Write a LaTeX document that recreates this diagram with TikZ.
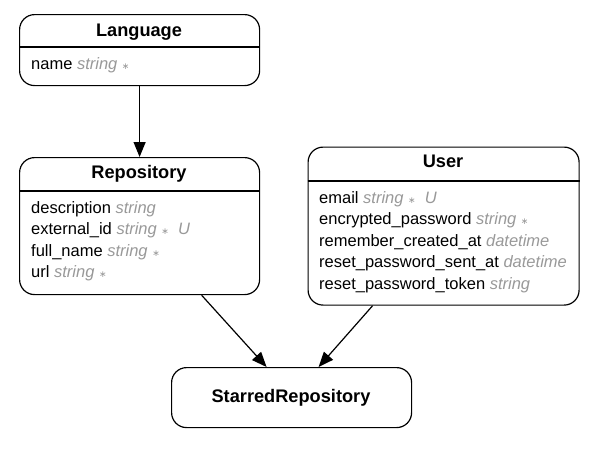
\documentclass[tikz,border=0pt]{standalone}
\usepackage{fontspec}
\setmainfont{Liberation Sans}
\newfontfamily\dejavu{DejaVu Sans}
\usetikzlibrary{arrows.meta,calc}
\definecolor{typegray}{HTML}{999999}
\newcommand{\ty}[1]{{\color{typegray}\itshape #1}}
\newcommand{\req}{{\color{typegray}\dejavu\fontsize{9}{9}\selectfont ∗}}
\tikzset{
  entbox/.style={draw=black, line width=1.2pt, rounded corners=15pt, anchor=north west, inner sep=0pt},
  hdr/.style={line width=1.2pt},
  title/.style={anchor=base, inner sep=0pt, font=\fontsize{18.2}{20}\selectfont\bfseries},
  row/.style={anchor=base west, inner sep=0pt, font=\fontsize{16.5}{18}\selectfont},
  conn/.style={line width=1.2pt, -{Triangle[length=15pt,width=12pt]}}
}
\begin{document}
\begin{tikzpicture}[x=1pt,y=-1pt]
\useasboundingbox[fill=white] (0,0) rectangle (590,448);
% Language
\node[entbox, minimum width=240pt, minimum height=71pt] (lang) at (19,14) {};
\draw[hdr] ($(lang.north west)+(0,33)$) -- ($(lang.north east)+(0,33)$);
\node[title] (langT) at (139,36) {Language};
\node[row] (langR1) at (31,69) {name \ty{string} \req};
% Repository
\node[entbox, minimum width=240pt, minimum height=137pt] (repo) at (19,157) {};
\draw[hdr] ($(repo.north west)+(0,34)$) -- ($(repo.north east)+(0,34)$);
\node[title] (repoT) at (139,178) {Repository};
\node[row] (repoR1) at (31,213) {description \ty{string}};
\node[row] (repoR2) at (31,234.5) {external\_id \ty{string} \req\ \ \ty{U}};
\node[row] (repoR3) at (31,256) {full\_name \ty{string} \req};
\node[row] (repoR4) at (31,277.5) {url \ty{string} \req};
% User
\node[entbox, minimum width=271pt, minimum height=158pt] (user) at (307.5,146.5) {};
\draw[hdr] ($(user.north west)+(0,34.5)$) -- ($(user.north east)+(0,34.5)$);
\node[title] (userT) at (443,167) {User};
\node[row] (userR1) at (319,203) {email \ty{string} \req\ \ \ty{U}};
\node[row] (userR2) at (319,224.5) {encrypted\_password \ty{string} \req};
\node[row] (userR3) at (319,246) {remember\_created\_at \ty{datetime}};
\node[row] (userR4) at (319,267.5) {reset\_password\_sent\_at \ty{datetime}};
\node[row] (userR5) at (319,289) {reset\_password\_token \ty{string}};
% StarredRepository
\node[entbox, minimum width=240pt, minimum height=60pt] (star) at (171,367) {};
\node[title] (starT) at (291,402) {StarredRepository};
% connectors
\draw[conn] (lang.south) -- (repo.north);
\draw[conn] ($(repo.south)+(62,0)$) -- ($(star.north)+(-25,0)$);
\draw[conn] ($(user.south)+(-71,0)$) -- ($(star.north)+(27,0)$);
\end{tikzpicture}
\end{document}
